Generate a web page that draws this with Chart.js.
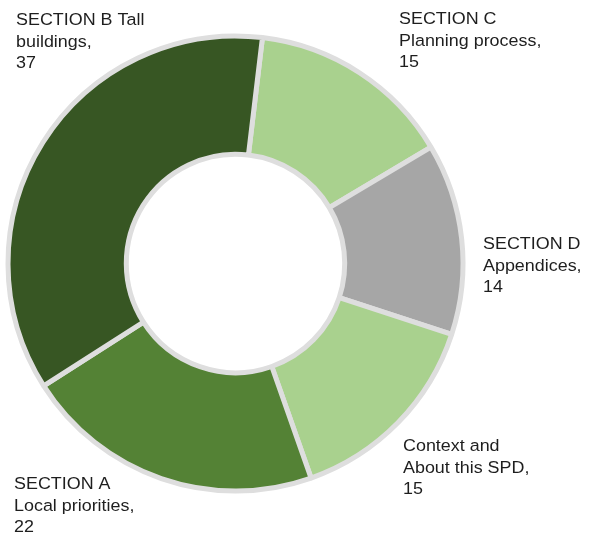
<!DOCTYPE html>
<html>
<head>
<meta charset="utf-8">
<script src="https://cdn.jsdelivr.net/npm/chart.js@4/dist/chart.umd.min.js"></script>
<style>
  html, body { margin: 0; padding: 0; background: #fff; }
  canvas { display: block; }
</style>
</head>
<body>
<canvas id="pie" width="598" height="533"></canvas>
<script>
// data
const categories = ['SECTION C Planning process', 'SECTION D Appendices', 'Context and About this SPD', 'SECTION A Local priorities', 'SECTION B Tall buildings'];
const values = [15, 14, 15, 22, 37];
const labelLines = [
  ['SECTION C', 'Planning process,', '15'],
  ['SECTION D', 'Appendices,', '14'],
  ['Context and', 'About this SPD,', '15'],
  ['SECTION A', 'Local priorities,', '22'],
  ['SECTION B Tall', 'buildings,', '37']
];
const colours = ['#a9d18e', '#a6a6a6', '#a9d18e', '#548235', '#375623'];

// where each label block sits (left x, first baseline)
const labelSpots = [
  [399, 24], [483, 249], [403, 451], [14, 489], [16, 25]
];

const outsideLabels = {
  id: 'outsideLabels',
  afterDraw(chart) {
    const ctx = chart.ctx;
    ctx.save();
    ctx.fillStyle = '#1e1e1e';
    ctx.font = '16.3px "Liberation Sans", Arial, sans-serif';
    ctx.textBaseline = 'alphabetic';
    labelLines.forEach((lines, i) => {
      const [x, y] = labelSpots[i];
      lines.forEach((t, j) => {
        ctx.save();
        ctx.translate(x, y + j * 21.7);
        ctx.scale(1.1, 1);
        ctx.fillText(t, 0, 0);
        ctx.restore();
      });
    });
    ctx.restore();
  }
};

new Chart(document.getElementById('pie'), {
  type: 'doughnut',
  data: {
    labels: categories,
    datasets: [{
      data: values,
      backgroundColor: colours,
      borderColor: '#dedede',
      borderWidth: 5,
      hoverOffset: 0
    }]
  },
  options: {
    responsive: false,
    animation: false,
    rotation: 6.8,
    cutout: '48%',
    layout: { padding: { left: 5.5, top: 33.5, right: 132.5, bottom: 39.5 } },
    plugins: {
      legend: { display: false },
      tooltip: { enabled: false }
    }
  },
  plugins: [outsideLabels]
});
</script>
</body>
</html>
